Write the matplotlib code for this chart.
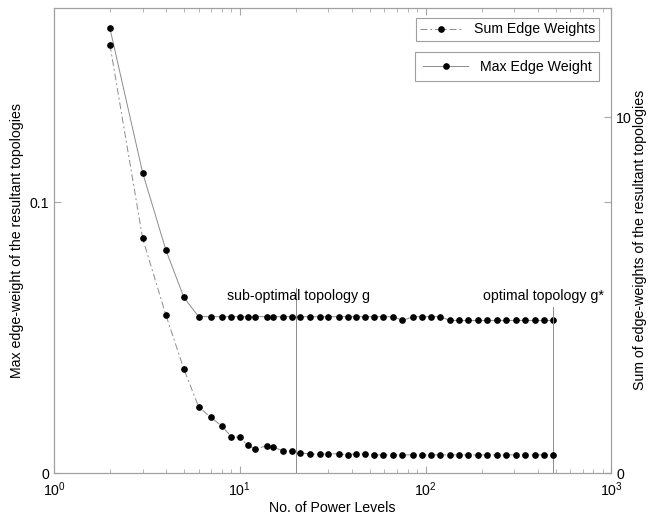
import matplotlib
matplotlib.use("Agg")
import matplotlib.pyplot as plt
from matplotlib.lines import Line2D

plt.rcParams['font.family'] = ['Liberation Sans', 'DejaVu Sans']

# power levels (x) shared by both series
power_levels = [2, 3, 4, 5, 6, 7, 8, 9, 10, 11, 12, 14, 15, 17, 19, 21, 24, 27, 30,
                34, 38, 42, 47, 53, 59, 67, 75, 86, 95, 107, 120, 135, 151, 170,
                191, 215, 242, 272, 305, 343, 386, 434, 485]

# max edge weight (left axis)
max_edge = [0.1641, 0.1108, 0.0823, 0.0648, 0.0577, 0.0577, 0.0577, 0.0577, 0.0577,
            0.0577, 0.0577, 0.0577, 0.0577, 0.0577, 0.0577, 0.0577, 0.0577, 0.0577,
            0.0577, 0.0577, 0.0577, 0.0577, 0.0577, 0.0577, 0.0577, 0.0577, 0.0563,
            0.0577, 0.0577, 0.0577, 0.0577, 0.0563, 0.0563, 0.0563, 0.0563, 0.0563,
            0.0563, 0.0563, 0.0563, 0.0563, 0.0563, 0.0563, 0.0563]

# sum of edge weights (right axis)
sum_edge = [12.03, 6.59, 4.44, 2.92, 1.86, 1.56, 1.32, 1.02, 1.00, 0.78, 0.68, 0.76,
            0.73, 0.63, 0.62, 0.57, 0.53, 0.53, 0.54, 0.54, 0.51, 0.54, 0.54, 0.51,
            0.51, 0.51, 0.51, 0.51, 0.51, 0.51, 0.51, 0.51, 0.51, 0.51, 0.51, 0.51,
            0.51, 0.51, 0.51, 0.51, 0.51, 0.51, 0.51]

sub_optimal_x = 20
optimal_x = 485

grey = '#8c8c8c'
fs = 10.2

fig = plt.figure(figsize=(6.49, 5.21), dpi=100)
ax1 = fig.add_axes([0.0832, 0.0921, 0.859, 0.8935])
ax2 = ax1.twinx()

ax1.plot(power_levels, max_edge, color=grey, lw=0.7, marker='o', ms=3.8,
         mfc='black', mec='black', label='Max Edge Weight')
ax2.plot(power_levels, sum_edge, color=grey, lw=0.7, ls=(0, (7, 3, 2, 3)), marker='o',
         ms=3.8, mfc='black', mec='black', label='Sum Edge Weights')

ax1.set_xscale('log')
ax1.set_xlim(1, 1000)
ax1.set_ylim(0, 0.1718)
ax2.set_ylim(0, 13.08)
ax1.set_yticks([0, 0.1])
ax1.set_yticklabels(['0', '0.1'])
ax2.set_yticks([0, 10])
ax2.set_yticklabels(['0', '10'])

for ax in (ax1, ax2):
    for s in ax.spines.values():
        s.set_color('#a0a0a0')
        s.set_linewidth(0.8)
ax1.tick_params(axis='both', which='both', direction='in', color='#a8a8a8',
                labelsize=fs, top=True, right=True)
ax1.tick_params(axis='x', which='major', length=5, pad=5)
ax1.tick_params(axis='x', which='minor', length=3)
ax1.tick_params(axis='y', length=5)
ax2.tick_params(axis='y', direction='in', color='#a8a8a8', labelsize=fs, length=5)

ax1.set_xlabel('No. of Power Levels', fontsize=fs, labelpad=2)
ax1.set_ylabel('Max edge-weight of the resultant topologies', fontsize=fs, labelpad=4)
ax2.set_ylabel('Sum of edge-weights of the resultant topologies', fontsize=fs, labelpad=1)

# markers for the two topologies
ax1.axvline(sub_optimal_x, ymin=0, ymax=0.397, color=grey, lw=0.7)
ax1.axvline(optimal_x, ymin=0, ymax=0.357, color=grey, lw=0.7)
ax1.text(8.5, 0.0653, 'sub-optimal topology g', fontsize=fs, va='center', ha='left')
ax1.text(204, 0.0653, 'optimal topology g*', fontsize=fs, va='center', ha='left')

# two separate legend boxes
h_sum = Line2D([], [], color=grey, lw=0.7, ls=(0, (7, 3, 2, 3)), marker='o', ms=3.8,
               mfc='black', mec='black')
h_max = Line2D([], [], color=grey, lw=0.7, marker='o', ms=3.8, mfc='black', mec='black')
leg1 = ax2.legend([h_sum], ['Sum Edge Weights'], loc='upper right',
                  bbox_to_anchor=(0.978, 0.977), fontsize=fs, fancybox=False,
                  edgecolor='#a0a0a0', framealpha=1, handlelength=3.0,
                  borderpad=0.3, borderaxespad=0)
leg1.get_frame().set_linewidth(0.8)
ax2.add_artist(leg1)
leg2 = ax2.legend([h_max], ['Max Edge Weight'], loc='upper right',
                  bbox_to_anchor=(0.978, 0.905), fontsize=fs, fancybox=False,
                  edgecolor='#a0a0a0', framealpha=1, handlelength=3.2,
                  borderpad=0.55, borderaxespad=0)
leg2.get_frame().set_linewidth(0.8)

fig.savefig('out.png', dpi=100)
